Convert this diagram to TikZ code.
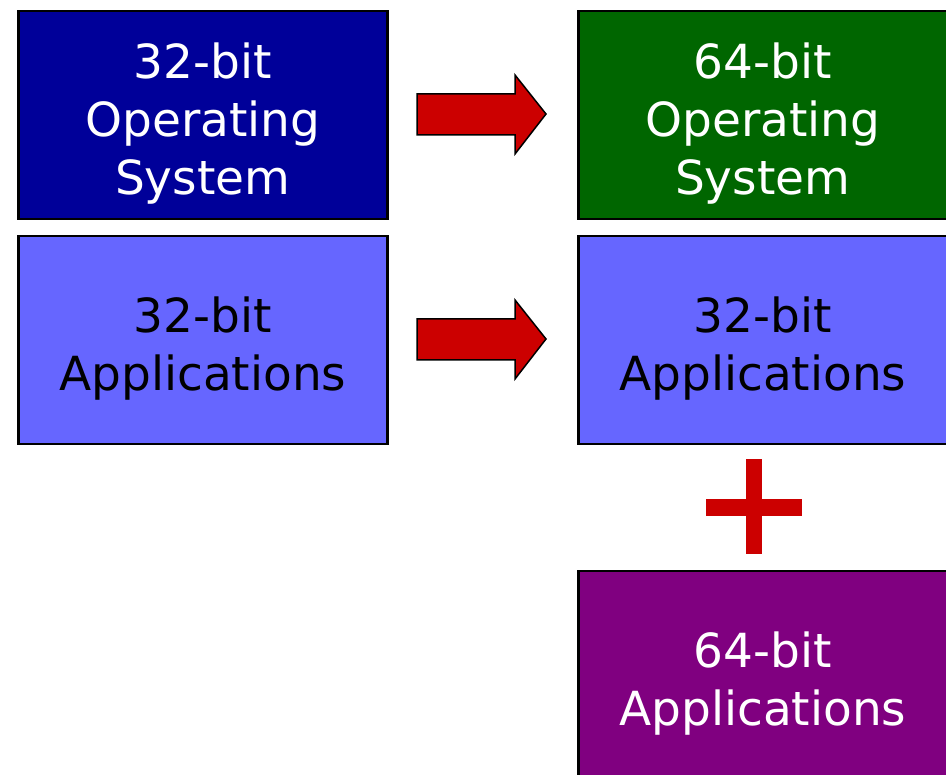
\documentclass[tikz,border=0pt]{standalone}
\usepackage{fontspec}
\setmainfont{DejaVu Sans}
\definecolor{osold}{HTML}{000099}
\definecolor{osnew}{HTML}{006600}
\definecolor{apps}{HTML}{6666FF}
\definecolor{appsnew}{HTML}{800080}
\definecolor{signred}{HTML}{CC0000}
\tikzset{
  block/.style={draw=black, line width=2.5pt, minimum width=369pt, minimum height=208pt,
    inner sep=0pt, anchor=north west},
  blocktext/.style={align=center, inner sep=0pt, font=\fontsize{47}{58}\selectfont},
  blockarrow/.style={fill=signred, draw=black, line width=1.5pt, line join=miter},
  plusbar/.style={fill=signred, draw=none}
}
\begin{document}
\begin{tikzpicture}[x=1pt, y=-1pt]
  \useasboundingbox (0,0) rectangle (946,775);
  \clip (0,0) rectangle (946,775);
  % left column
  \node[block, fill=osold] (os32) at (17,10) {};
  \node[block, fill=apps] (app32) at (17,235) {};
  % right column
  \node[block, fill=osnew] (os64) at (577,10) {};
  \node[block, fill=apps] (app32b) at (577,235) {};
  \node[block, fill=appsnew] (app64) at (577,570) {};
  % captions, set slightly below each box centre
  \node[blocktext, text=white] (os32t) at ([yshift=-8pt]os32.center) {32-bit\\Operating\\System};
  \node[blocktext, text=black] (app32t) at ([yshift=-8pt]app32.center) {32-bit\\Applications};
  \node[blocktext, text=white] (os64t) at ([yshift=-8pt]os64.center) {64-bit\\Operating\\System};
  \node[blocktext, text=black] (app32bt) at ([yshift=-8pt]app32b.center) {32-bit\\Applications};
  \node[blocktext, text=white] (app64t) at ([yshift=-8pt]app64.center) {64-bit\\Applications};
  % block arrows between the columns
  \foreach \y in {114, 339} {
    \draw[blockarrow] (417,\y-20) -- (515,\y-20) -- (515,\y-39) -- (546,\y)
      -- (515,\y+40) -- (515,\y+21) -- (417,\y+21) -- cycle;
  }
  % plus sign
  \fill[plusbar] (746,459) rectangle (762,554);
  \fill[plusbar] (706,499) rectangle (802,516);
\end{tikzpicture}
\end{document}
